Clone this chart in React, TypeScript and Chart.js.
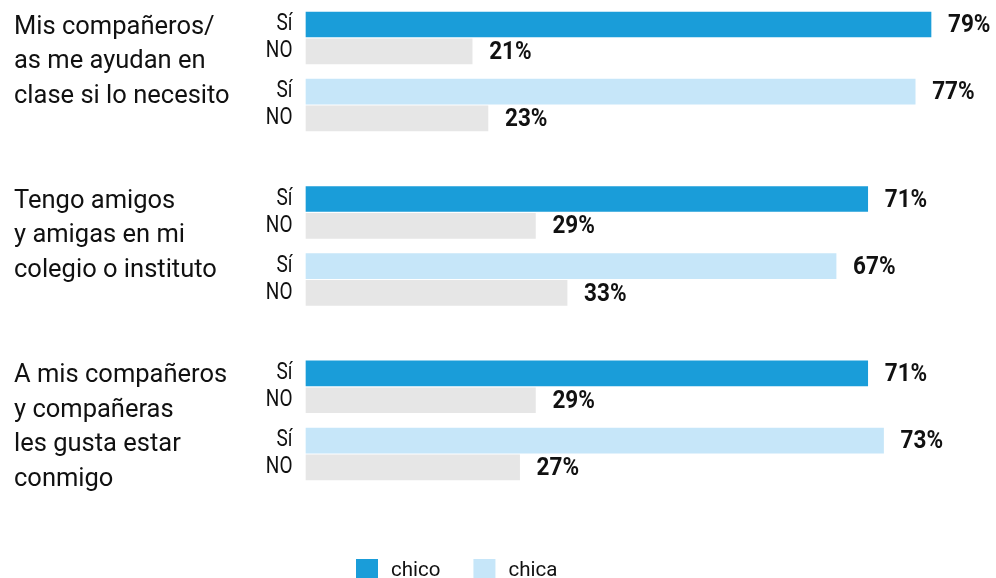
import React, { useEffect, useRef } from "react";
import { Chart, registerables } from "chart.js";

Chart.register(...registerables);

// ---- data ----
const groupLabels: string[][] = [
  ["Mis compañeros/", "as me ayudan en", "clase si lo necesito"],
  ["Tengo amigos", "y amigas en mi", "colegio o instituto"],
  ["A mis compañeros", "y compañeras", "les gusta estar", "conmigo"],
];
const answerLabels = ["Sí", "NO"];
const chicoSi = [79, 71, 71];
const chicoNo = [21, 29, 29];
const chicaSi = [77, 67, 73];
const chicaNo = [23, 33, 27];
const seriesNames = ["chico", "chica"];

// ---- styles ----
const COLOR_CHICO = "#1a9dd9";
const COLOR_CHICA = "#c6e6f9";
const COLOR_NO = "#e6e6e6";
const FONT = "Roboto";

// Build category slots: each group = Sí, _, NO, _, _, Sí, _, NO ; groups separated by 5 blank slots
const GAP_SLOTS = 5;
const categories: string[] = [];
const chicoData: (number | null)[] = [];
const chicaData: (number | null)[] = [];
const noData: (number | null)[] = [];
const groupStart: number[] = [];
groupLabels.forEach((_, g) => {
  groupStart.push(categories.length);
  const block: [string, number | null, number | null, number | null][] = [
    [answerLabels[0], chicoSi[g], null, null],
    ["", null, null, null],
    [answerLabels[1], null, null, chicoNo[g]],
    ["", null, null, null],
    ["", null, null, null],
    [answerLabels[0], null, chicaSi[g], null],
    ["", null, null, null],
    [answerLabels[1], null, null, chicaNo[g]],
  ];
  block.forEach(([l, a, b, c]) => {
    categories.push(l);
    chicoData.push(a);
    chicaData.push(b);
    noData.push(c);
  });
  if (g < groupLabels.length - 1) {
    for (let i = 0; i < GAP_SLOTS; i++) {
      categories.push("");
      chicoData.push(null);
      chicaData.push(null);
      noData.push(null);
    }
  }
});

// condensed-looking text helper
function drawScaledText(ctx: CanvasRenderingContext2D, text: string, x: number, y: number, sx: number, align: "left" | "right") {
  ctx.save();
  ctx.translate(x, y);
  ctx.scale(sx, 1);
  ctx.textAlign = align;
  ctx.fillText(text, 0, 0);
  ctx.restore();
}

const valueLabelPlugin = {
  id: "valueLabels",
  afterDatasetsDraw(chart: any) {
    const ctx = chart.ctx;
    ctx.save();
    ctx.font = `bold 26.5px ${FONT}`;
    ctx.fillStyle = "#111";
    ctx.textBaseline = "middle";
    chart.data.datasets.forEach((ds: any, di: number) => {
      const meta = chart.getDatasetMeta(di);
      meta.data.forEach((el: any, i: number) => {
        const v = ds.data[i];
        if (v == null) return;
        drawScaledText(ctx, `${v}%`, el.x + 17, el.y + 1, 0.85, "left");
      });
    });
    ctx.restore();
  },
};

const tickLabelPlugin = {
  id: "tickLabels",
  afterDraw(chart: any) {
    const ctx = chart.ctx;
    const y = chart.scales.y;
    ctx.save();
    ctx.font = `23.5px ${FONT}`;
    ctx.fillStyle = "#111";
    ctx.textBaseline = "middle";
    y.ticks.forEach((t: any, i: number) => {
      const label = y.getLabelForValue(t.value);
      if (!label) return;
      drawScaledText(ctx, label, y.right - 13.5, y.getPixelForTick(i), 0.81, "right");
    });
    ctx.restore();
  },
};

const groupLabelPlugin = {
  id: "groupLabels",
  afterDraw(chart: any) {
    const ctx = chart.ctx;
    const y = chart.scales.y;
    ctx.save();
    ctx.font = `25.5px ${FONT}`;
    ctx.fillStyle = "#111";
    ctx.textBaseline = "alphabetic";
    ctx.textAlign = "left";
    groupLabels.forEach((lines, g) => {
      const y0 = y.getPixelForValue(groupStart[g]) + 9;
      lines.forEach((line, i) => ctx.fillText(line, 14, y0 + i * 34.5));
    });
    ctx.restore();
  },
};

const legendPlugin = {
  id: "customLegend",
  afterDraw(chart: any) {
    const ctx = chart.ctx;
    ctx.save();
    ctx.font = `20.5px ${FONT}`;
    ctx.textBaseline = "alphabetic";
    ctx.textAlign = "left";
    let x = 356;
    const top = 559;
    chart.data.datasets.forEach((ds: any) => {
      if (!seriesNames.includes(ds.label)) return;
      ctx.fillStyle = ds.backgroundColor;
      ctx.fillRect(x, top, 22, 22);
      ctx.fillStyle = "#111";
      ctx.fillText(ds.label, x + 35, 576);
      x += 35 + ctx.measureText(ds.label).width + 33;
    });
    ctx.restore();
  },
};

export default function App() {
  const ref = useRef<HTMLCanvasElement>(null);
  useEffect(() => {
    document.body.style.margin = "0";
    document.body.style.overflow = "hidden";
    if (!ref.current) return;
    const chart = new Chart(ref.current, {
      type: "bar",
      data: {
        labels: categories,
        datasets: [
          { label: seriesNames[0], data: chicoData, backgroundColor: COLOR_CHICO },
          { label: seriesNames[1], data: chicaData, backgroundColor: COLOR_CHICA },
          { label: "NO", data: noData, backgroundColor: COLOR_NO },
        ] as any,
      },
      options: {
        indexAxis: "y",
        animation: false,
        responsive: false,
        layout: { padding: { top: 17.8, bottom: 103.9, right: 1.7, left: 0 } },
        datasets: { bar: { grouped: false, barThickness: 25, skipNull: true, borderWidth: 0, clip: false } } as any,
        plugins: { legend: { display: false }, tooltip: { enabled: false } },
        scales: {
          x: { display: false, min: 0, max: 87 },
          y: {
            grid: { display: false, drawTicks: false },
            border: { display: false },
            ticks: { display: false, autoSkip: false },
            afterFit: (scale: any) => {
              scale.width = 306;
              scale.paddingTop = 0;
              scale.paddingBottom = 0;
            },
          },
        },
      } as any,
      plugins: [valueLabelPlugin, tickLabelPlugin, groupLabelPlugin, legendPlugin],
    });
    return () => chart.destroy();
  }, []);
  return (
    <div style={{ width: 996, height: 578 }}>
      <canvas ref={ref} width={996} height={578} />
    </div>
  );
}
